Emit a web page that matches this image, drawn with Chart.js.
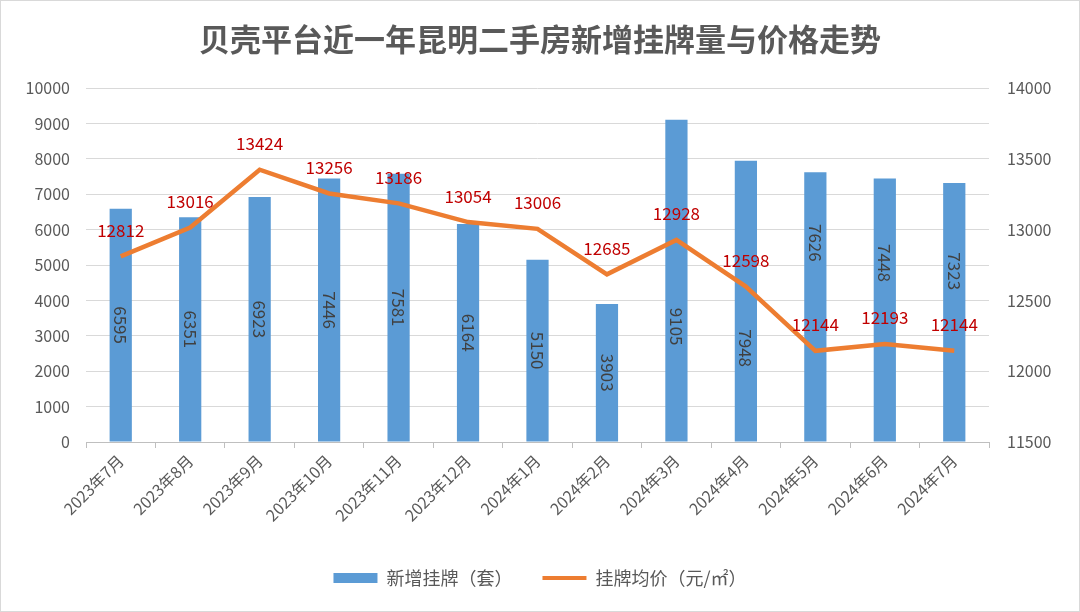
<!DOCTYPE html>
<html>
<head>
<meta charset="utf-8">
<script src="https://cdn.jsdelivr.net/npm/chart.js@4"></script>
<style>
  html, body { margin: 0; padding: 0; background: #fff; }
  #wrap { width: 1080px; height: 612px; position: relative; box-sizing: border-box; border: 1px solid #d9d9d9; }
</style>
</head>
<body>
<div id="wrap"><canvas id="c"></canvas></div>
<script>
const months = ["2023年7月", "2023年8月", "2023年9月", "2023年10月", "2023年11月", "2023年12月",
  "2024年1月", "2024年2月", "2024年3月", "2024年4月", "2024年5月", "2024年6月", "2024年7月"];
const listings = [6595, 6351, 6923, 7446, 7581, 6164, 5150, 3903, 9105, 7948, 7626, 7448, 7323];
const prices = [12812, 13016, 13424, 13256, 13186, 13054, 13006, 12685, 12928, 12598, 12144, 12193, 12144];

// 柱内标签相对柱中心的上下偏移（像素），原图后几个标签被手动挪开了
const barLabelShift = [0, 0, 0, 0, 0, 0, 0, 0, 46, 47, -64, -47, -41];

const FONT = "'Noto Sans CJK SC', 'Noto Sans', sans-serif";
const GREY = "#595959";

// 数据标签：柱子里竖排数字，折线点上方红色数字
const labelPlugin = {
  id: "labels",
  afterDatasetsDraw(chart) {
    const ctx = chart.ctx;
    ctx.save();
    const bars = chart.getDatasetMeta(1).data;
    ctx.font = "17px " + FONT;
    ctx.fillStyle = "#404040";
    ctx.textAlign = "center";
    ctx.textBaseline = "middle";
    bars.forEach((b, i) => {
      const y = (b.y + b.base) / 2 + barLabelShift[i];
      ctx.save();
      ctx.translate(b.x, y);
      ctx.rotate(Math.PI / 2);
      ctx.fillText(String(listings[i]), 0, 0);
      ctx.restore();
    });
    const pts = chart.getDatasetMeta(0).data;
    ctx.font = "17px " + FONT;
    ctx.fillStyle = "#c00000";
    ctx.textBaseline = "middle";
    pts.forEach((p, i) => {
      ctx.fillText(String(prices[i]), p.x, p.y - 26);
    });
    ctx.restore();
  }
};

new Chart(document.getElementById("c"), {
  data: {
    labels: months,
    datasets: [
      {
        type: "line",
        label: "挂牌均价（元/㎡）",
        data: prices,
        yAxisID: "y1",
        borderColor: "#ed7d31",
        backgroundColor: "#ed7d31",
        borderWidth: 4.5,
        pointRadius: 0,
        pointStyle: "line",
        tension: 0,
        order: 0,
      },
      {
        type: "bar",
        label: "新增挂牌（套）",
        data: listings,
        yAxisID: "y",
        backgroundColor: "#5b9bd5",
        categoryPercentage: 1,
        barPercentage: 0.32,
        pointStyle: "rect",
        order: 1,
      },
    ],
  },
  options: {
    responsive: true,
    maintainAspectRatio: false,
    animation: false,
    layout: { padding: { left: 0, right: 0, top: 10, bottom: 14 } },
    plugins: {
      title: {
        display: true,
        text: "贝壳平台近一年昆明二手房新增挂牌量与价格走势",
        color: GREY,
        font: { family: FONT, size: 31, weight: "bold" },
        padding: { top: 10, bottom: 30 },
      },
      legend: {
        position: "bottom",
        reverse: true,
        labels: {
          color: GREY,
          font: { family: FONT, size: 18 },
          usePointStyle: true,
          pointStyleWidth: 44,
          boxHeight: 10,
          padding: 30,
          generateLabels(chart) {
            return chart.data.datasets.map((ds, i) => ({
              text: ds.label,
              fillStyle: ds.backgroundColor,
              strokeStyle: ds.type === "bar" ? ds.backgroundColor : ds.borderColor,
              lineWidth: ds.type === "bar" ? 0 : 4,
              pointStyle: ds.pointStyle,
              fontColor: GREY,
              datasetIndex: i,
              hidden: false,
            }));
          },
        },
      },
      tooltip: { enabled: false },
    },
    scales: {
      x: {
        grid: { offset: true, drawOnChartArea: false, color: "#bfbfbf", tickLength: 6 },
        border: { color: "#bfbfbf" },
        ticks: {
          color: GREY,
          font: { family: FONT, size: 16 },
          maxRotation: 45,
          minRotation: 45,
        },
        afterFit(scale) { scale.height = 97; },
      },
      y: {
        position: "left",
        min: 0,
        max: 10000,
        ticks: { stepSize: 1000, color: GREY, font: { family: FONT, size: 16 }, padding: 16,
          callback: v => String(v) },
        grid: { color: "#d9d9d9", drawTicks: false },
        border: { display: false },
        afterFit(scale) { scale.width = 85; },
      },
      y1: {
        position: "right",
        min: 11500,
        max: 14000,
        ticks: { stepSize: 500, color: GREY, font: { family: FONT, size: 16 }, padding: 18,
          callback: v => String(v) },
        grid: { drawOnChartArea: false, drawTicks: false },
        border: { display: false },
        afterFit(scale) { scale.width = 90; },
      },
    },
  },
  plugins: [labelPlugin],
});
</script>
</body>
</html>
